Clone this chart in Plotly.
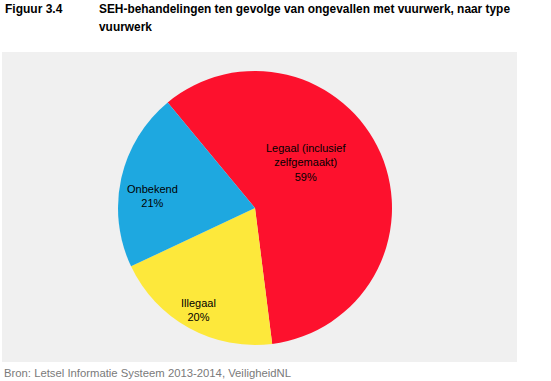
import math
import plotly.graph_objects as go

labels = ["Legaal (inclusief<br>zelfgemaakt)", "Illegaal", "Onbekend"]
values = [59, 20, 21]
colors = ["#FD112D", "#FDE83B", "#1EA8E0"]

# label placement style: (radius fraction, angle shift in degrees) per slice
label_style = [(0.50, -18), (0.85, 0), (0.75, -6)]

W, H = 551, 381
cx, cy, r = 255, 208, 137
rotation = -39.6
FONT = "Liberation Sans, Arial, Helvetica"

fig = go.Figure(go.Pie(
    labels=labels,
    values=values,
    sort=False,
    direction="clockwise",
    rotation=rotation,
    marker=dict(colors=colors, line=dict(width=0)),
    textinfo="none",
    hoverinfo="label+percent",
    showlegend=False,
    domain=dict(x=[(cx - r) / W, (cx + r) / W], y=[1 - (cy + r) / H, 1 - (cy - r) / H]),
))

annotations = []
total = sum(values)
cum = 0
for lab, v, (rf, shift) in zip(labels, values, label_style):
    mid = rotation + 360 * (cum + v / 2) / total + shift
    cum += v
    a = math.radians(mid)
    px = cx + rf * r * math.sin(a)
    py = cy - rf * r * math.cos(a)
    annotations.append(dict(
        text=f"{lab}<br>{round(100 * v / total)}%",
        xref="paper", yref="paper", x=px / W, y=1 - py / H,
        xanchor="center", yanchor="middle", showarrow=False, align="center",
        font=dict(family=FONT, size=11, color="#000000")))

annotations += [
    dict(text="<b>Figuur 3.4</b>", xref="paper", yref="paper", x=3 / W, y=1 - 9 / H,
         xanchor="left", yanchor="middle", showarrow=False,
         font=dict(family=FONT, size=12, color="#000")),
    dict(text="<b>SEH-behandelingen ten gevolge van ongevallen met vuurwerk, naar type</b>",
         xref="paper", yref="paper", x=97 / W, y=1 - 9 / H,
         xanchor="left", yanchor="middle", showarrow=False,
         font=dict(family=FONT, size=11.9, color="#000")),
    dict(text="<b>vuurwerk</b>",
         xref="paper", yref="paper", x=97 / W, y=1 - 27 / H,
         xanchor="left", yanchor="middle", showarrow=False,
         font=dict(family=FONT, size=11.9, color="#000")),
    dict(text="Bron: Letsel Informatie Systeem 2013-2014, VeiligheidNL",
         xref="paper", yref="paper", x=2 / W, y=1 - 373 / H,
         xanchor="left", yanchor="middle", showarrow=False,
         font=dict(family=FONT, size=11.3, color="#7a7a7a")),
]

fig.update_layout(
    width=W, height=H,
    margin=dict(l=0, r=0, t=0, b=0),
    paper_bgcolor="white",
    plot_bgcolor="white",
    shapes=[dict(type="rect", xref="paper", yref="paper",
                 x0=2 / W, x1=517 / W, y0=1 - 362 / H, y1=1 - 52 / H,
                 fillcolor="#F0F0F0", line=dict(width=0), layer="below")],
    annotations=annotations,
)

fig.write_html("out.html", config={"displayModeBar": False},
               post_script="document.body.style.margin='0';")
